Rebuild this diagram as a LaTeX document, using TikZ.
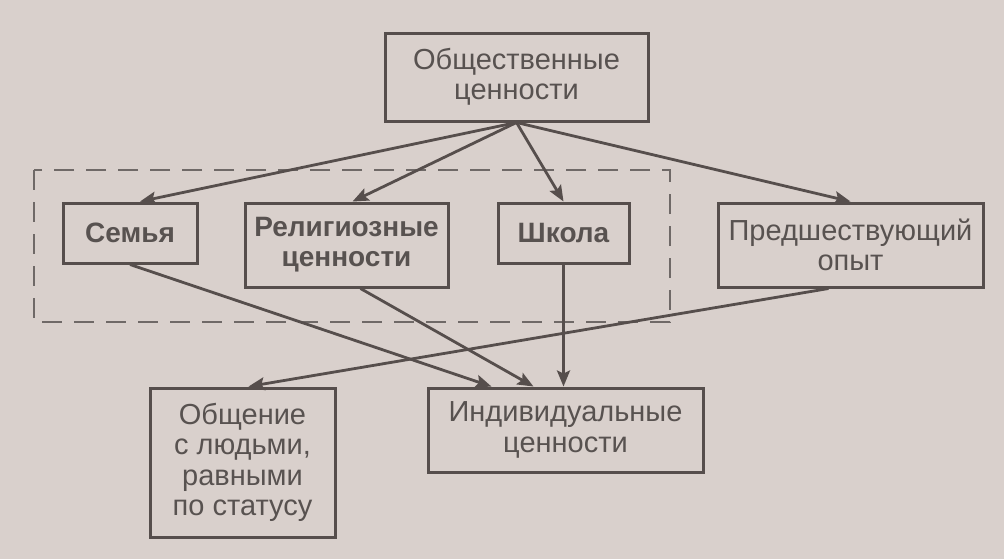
\documentclass[tikz,border=0pt]{standalone}
\usepackage{fontspec}
\setmainfont{Liberation Sans}
\usetikzlibrary{arrows.meta}
\definecolor{paper}{RGB}{217,208,204}
\definecolor{ink}{RGB}{86,78,76}
\definecolor{inktext}{RGB}{88,82,80}
\begin{document}
\begin{tikzpicture}[x=0.5pt, y=-0.5pt,
	>={Stealth[length=8pt, width=6.5pt, inset=1.5pt]},
	box/.style={draw=ink, line width=1.5pt, inner sep=0pt, align=center,
		text=inktext, font=\fontsize{14.5}{15.2}\selectfont},
	link/.style={draw=ink, line width=1.4pt}]
	\fill[paper] (0,0) rectangle (1004,559);
	\useasboundingbox (0,0) rectangle (1004,559);

	% Define top
	\node[box, minimum width=131.5pt, minimum height=44pt] (NodeSoc) at (516.5,77) {Общественные\\ценности};

	% Define group in the dashed frame
	\draw[ink!85, line width=0.8pt, dash pattern=on 10pt off 6pt] (34,170) rectangle (670,322);
	\node[box, font=\fontsize{14}{15}\selectfont\bfseries, minimum width=67pt, minimum height=30pt] (NodeFam) at (130,233) {Семья};
	\node[box, font=\fontsize{14}{15}\selectfont\bfseries, minimum width=101.5pt, minimum height=42pt] (NodeRel) at (346.5,245) {Религиозные\\ценности};
	\node[box, font=\fontsize{14}{15}\selectfont\bfseries, minimum width=65.5pt, minimum height=30pt] (NodeSch) at (563.5,233) {Школа};
	\node[box, minimum width=132.5pt, minimum height=42pt] (NodeExp) at (850.5,245) {Предшествующий\\опыт};

	\draw[link, ->] (NodeSoc.south) -- ([xshift=5pt]NodeFam.north);
	\draw[link, ->] (NodeSoc.south) -- ([xshift=3pt]NodeRel.north);
	\draw[link, ->] (NodeSoc.south) -- (NodeSch.north);
	\draw[link, ->] (NodeSoc.south) -- (NodeExp.north);

	% Define bottom
	\node[box, minimum width=92.5pt, minimum height=74.5pt] (NodePeer) at (242.5,462.5) {Общение\\с людьми,\\равными\\по статусу};
	\node[box, minimum width=137.5pt, minimum height=42pt] (NodeInd) at (565.5,430) {Индивидуальные\\ценности};

	\draw[link, ->] (NodeFam.south) -- ([xshift=-37pt]NodeInd.north);
	\draw[link, ->] ([xshift=7pt]NodeRel.south) -- ([xshift=-16pt]NodeInd.north);
	\draw[link, ->] (NodeSch.south) -- (NodeSch.south |- NodeInd.north);
	\draw[link, ->] ([xshift=-11pt]NodeExp.south) -- ([xshift=3pt]NodePeer.north);
\end{tikzpicture}
\end{document}
